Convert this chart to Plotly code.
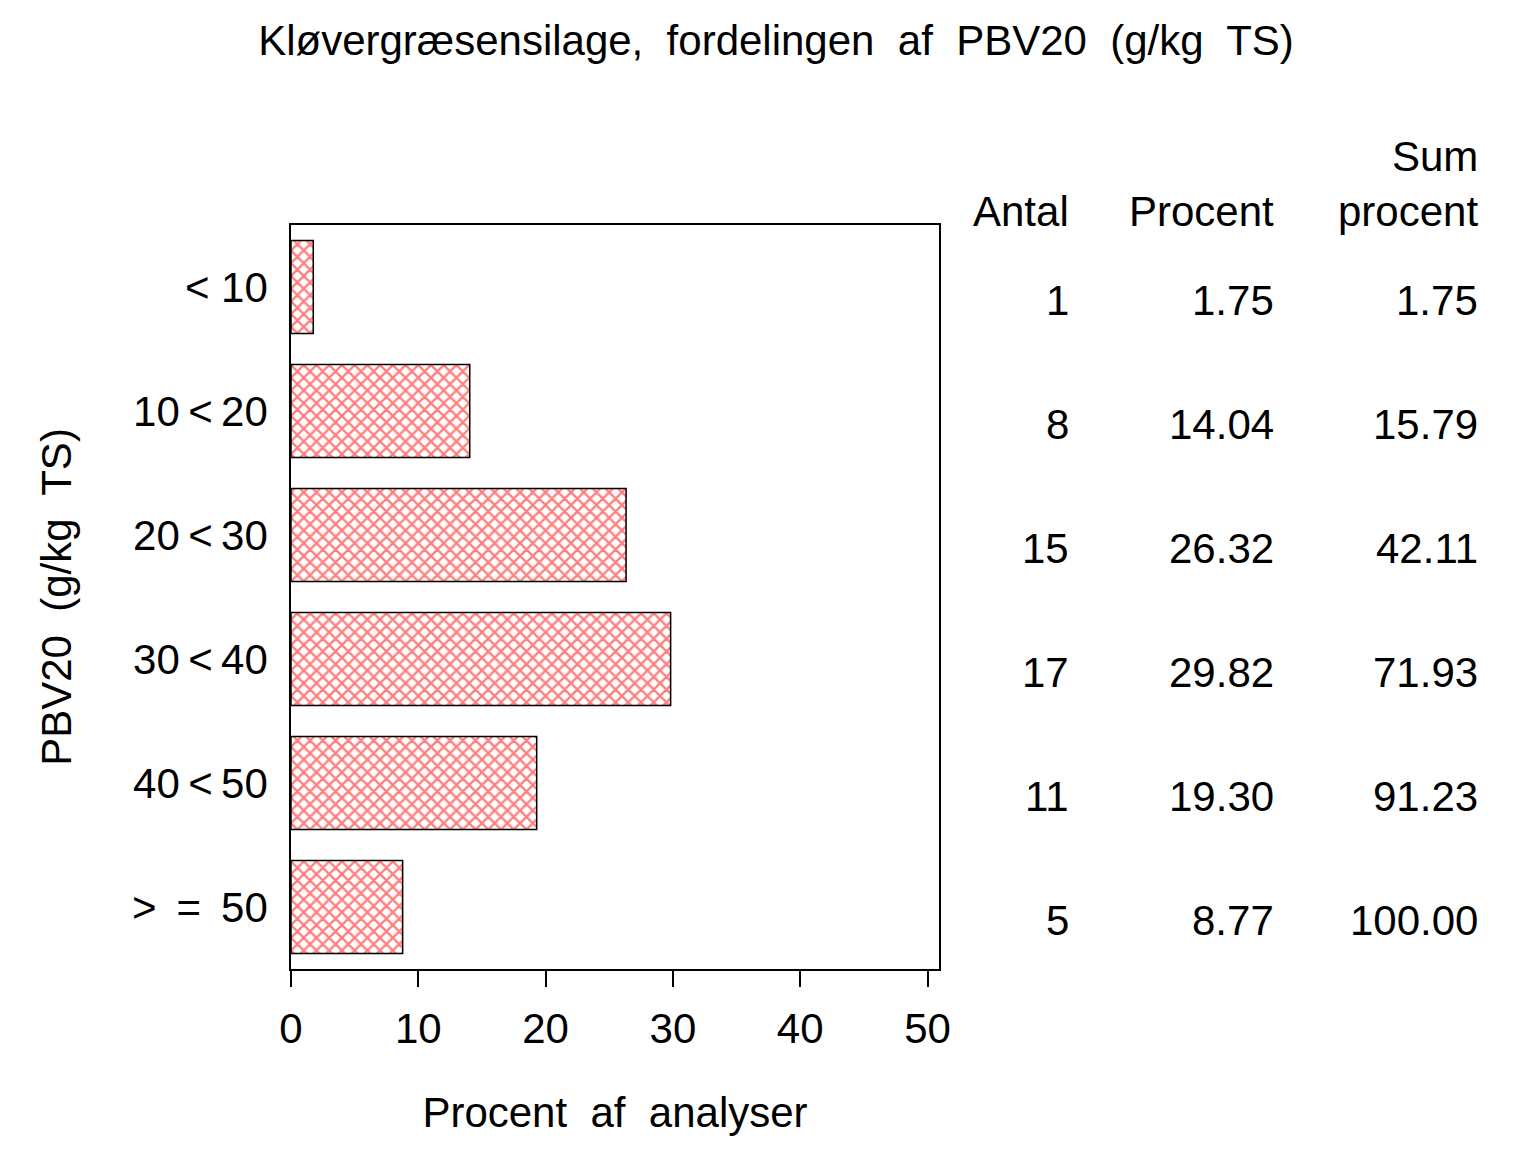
import plotly.graph_objects as go

categories = ["< 10", "10\u2009<\u200920", "20\u2009<\u200930", "30\u2009<\u200940", "40\u2009<\u200950", "> \u2009= \u200950"]
antal = [1, 8, 15, 17, 11, 5]
procent = [1.75, 14.04, 26.32, 29.82, 19.30, 8.77]
sum_procent = [1.75, 15.79, 42.11, 71.93, 91.23, 100.00]
x_ticks = [0, 10, 20, 30, 40, 50]

FONT = "Liberation Sans"
FS = 42

fig = go.Figure()
fig.add_trace(go.Bar(
    y=categories, x=procent, orientation="h", width=0.75,
    marker=dict(color="white", line=dict(color="black", width=1.5),
                pattern=dict(shape="x", fgcolor="#ff0000", bgcolor="white", size=9, solidity=0.45)),
    showlegend=False,
))

# table to the right of the plot
col_x = [1.2037, 1.5201, 1.8349]
annots = []
for cat, a, p, s in zip(categories, antal, procent, sum_procent):
    for cx, txt in zip(col_x, [str(a), f"{p:.2f}", f"{s:.2f}"]):
        annots.append(dict(x=cx, xref="paper", y=cat, yref="y", text=txt,
                           xanchor="right", yanchor="middle", yshift=-13,
                           showarrow=False, font=dict(family=FONT, size=FS, color="black")))
for cx, txt in zip(col_x, ["Antal", "Procent", "procent"]):
    annots.append(dict(x=cx, xref="paper", y=1.0188, yref="paper", text=txt,
                       xanchor="right", yanchor="middle", showarrow=False,
                       font=dict(family=FONT, size=FS, color="black")))
annots.append(dict(x=col_x[2], xref="paper", y=1.0914, yref="paper", text="Sum",
                   xanchor="right", yanchor="middle", showarrow=False,
                   font=dict(family=FONT, size=FS, color="black")))

fig.update_layout(
    width=1536, height=1152,
    margin=dict(l=283, r=605, t=217, b=191),
    paper_bgcolor="white", plot_bgcolor="white",
    font=dict(family=FONT, size=FS, color="black"),
    title=dict(text="Kløvergræsensilage,  fordelingen  af  PBV20  (g/kg  TS)",
               x=0.5, xanchor="center", y=0.972, yanchor="middle",
               font=dict(family=FONT, size=FS)),
    annotations=annots,
    bargap=0.25,
)
fig.update_xaxes(
    range=[0, 50.9], tickvals=x_ticks, ticks="outside", ticklen=16, tickwidth=1.5,
    tickcolor="black", showgrid=False, zeroline=False, showline=True, linecolor="black",
    linewidth=1.5, mirror=True, ticklabelstandoff=6,
    title=dict(text="Procent  af  analyser", standoff=46, font=dict(family=FONT, size=FS)),
)
fig.update_yaxes(
    categoryorder="array", categoryarray=categories, range=[5.5, -0.5],
    showgrid=False, zeroline=False, showline=True, linecolor="black", linewidth=1.5,
    mirror=True, ticks="", ticklabelstandoff=13,
    title=dict(text="PBV20  (g/kg  TS)", standoff=47, font=dict(family=FONT, size=FS)),
)

fig.write_html("out.html")
